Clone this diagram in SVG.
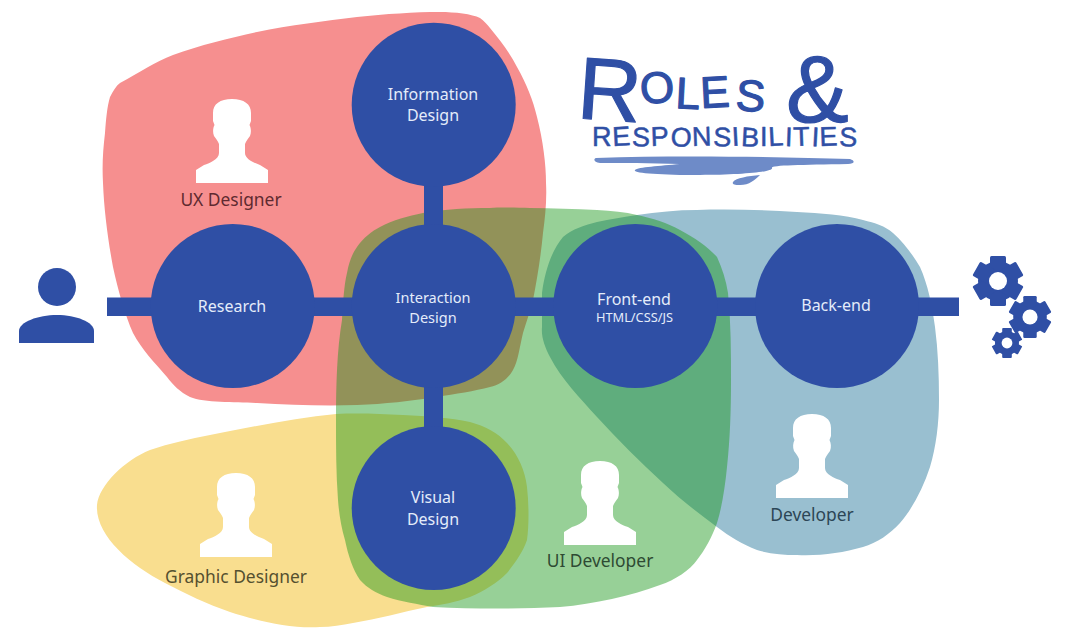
<svg xmlns="http://www.w3.org/2000/svg" xmlns:xlink="http://www.w3.org/1999/xlink" width="1080" height="641" viewBox="0 0 1080 641">
<style>
.c{fill:#2F4FA5}
.n{font-family:"Noto Sans","Open Sans",sans-serif;font-size:16px;fill:#E4ECFA;text-anchor:middle}
.s{font-size:14.5px}
.r{font-family:"Noto Sans","Open Sans",sans-serif;font-size:17.4px;text-anchor:middle}
.t{font-family:"Liberation Sans",sans-serif;fill:#2F4FA5;stroke:#2F4FA5;stroke-linejoin:round}
</style>
<defs>
<path id="sil" fill="#fff" d="M0,0C12,0 19,5 19,14V22L17.5,26C19,29 19.5,33 18,37C16,40 14,42 13,45V54C13,60 22,64 28,66L36,71V84H-36V71L-28,66C-22,64 -13,60 -13,54V45C-14,42 -16,40 -18,37C-19.5,33 -19,29 -17.5,26L-19,22V14C-19,5 -12,0 0,0Z"/>
<g id="gear">
<circle r="8" class="c"/>
<rect x="-3.2" y="-10" width="6.4" height="20" rx=".6" class="c"/>
<rect x="-3.2" y="-10" width="6.4" height="20" rx=".6" class="c" transform="rotate(60)"/>
<rect x="-3.2" y="-10" width="6.4" height="20" rx=".6" class="c" transform="rotate(120)"/>
<circle r="3.6" fill="#fff"/>
</g>
</defs>
<rect width="1080" height="641" fill="#fff"/>
<g id="areas">
<path id="area-ux" fill="#F68F8F" d="M110,97C113,91 116,86 120,83C140,72 155,62 173,55C200,45 230,38 257,32C290,25 325,21 357,17C385,14 415,12 440,12C455,12 472,14 480,18C484,21 487,24 490,28C500,40 510,53 517,67C527,85 533,100 537,117C543,140 546,165 546,183C547,200 545,218 543,233C541,255 537,280 533,300C530,312 526,323 523,333C520,345 518,362 513,370C508,379 500,385 490,387C475,391 455,394 437,397C410,401 385,404 357,405C325,406 290,405 257,403C235,402 205,403 190,397C180,392 173,385 167,377C155,363 142,350 133,333C125,315 118,290 113,267C108,240 104,210 103,183C102,165 103,150 105,133C106,120 107,107 110,97Z"/>
<path id="area-graphic" fill="#F9DE8F" d="M97,505C99,485 125,460 150,450C170,443 190,439 210,435C250,427 295,418 336,414C360,413 380,414 403,415C428,416 450,418 470,422C485,426 498,433 507,443C518,455 525,470 527,487C529,505 529,525 527,540C523,552 515,563 507,573C497,583 484,591 470,597C456,602 441,605 427,607C402,612 378,619 353,623C342,625 331,627 320,627C290,629 255,620 230,612C207,604 186,594 165,583C130,565 95,535 97,505Z"/>
<path id="area-dev" fill="#99BFD0" d="M542,293C545,270 552,250 563,237C572,229 585,225 597,222C610,219 624,217 637,215C657,212 677,210 697,210C730,209 765,210 797,212C820,213 845,215 863,220C875,223 885,226 893,233C904,243 913,255 920,267C928,285 932,305 935,327C938,350 939,375 939,400C939,423 936,447 930,467C923,488 913,508 900,523C890,534 877,543 863,547C842,553 820,556 797,555C783,555 770,554 757,550C742,544 730,537 717,527C698,513 680,499 663,483C640,462 618,440 597,417C580,398 562,380 550,357C545,347 541,337 542,327Z"/>
<path id="area-ui" fill="#189718" fill-opacity=".45" d="M336,420C336,385 337,350 342,320C343,303 344,285 347,273C349,262 352,254 357,247C363,238 372,231 380,227C393,220 408,216 423,213C445,209 468,208 490,208C505,207 518,208 530,208C552,208 575,209 597,210C612,211 625,212 637,215C652,218 668,223 680,230C695,238 708,247 717,257C722,268 726,280 728,293C731,323 731,353 731,383C731,410 730,440 727,467C725,487 722,507 717,523C712,537 705,550 697,560C690,570 675,580 660,585C630,596 595,604 560,607C520,609 475,609 433,607C418,604 402,602 387,597C376,593 367,588 360,580C353,570 348,555 345,540C341,527 339,513 338,500C336,473 336,447 336,420Z"/>
</g>
<g id="connectors" class="c">
<rect x="107" y="297.5" width="852" height="18.5"/>
<rect x="424" y="105" width="19" height="403"/>
</g>
<g id="research"><circle class="c" cx="232.7" cy="306" r="82"/><text class="n" x="232" y="312">Research</text></g>
<g id="information-design"><circle class="c" cx="433.7" cy="104.7" r="82"/><text class="n" x="433" y="100">Information</text><text class="n" x="433" y="121">Design</text></g>
<g id="interaction-design"><circle class="c" cx="433.7" cy="306" r="82"/><text class="n s" x="433" y="303">Interaction</text><text class="n s" x="433" y="322.5">Design</text></g>
<g id="visual-design"><circle class="c" cx="433.7" cy="508" r="82"/><text class="n" x="433" y="503">Visual</text><text class="n" x="433" y="525">Design</text></g>
<g id="front-end"><circle class="c" cx="635.3" cy="306" r="82"/><text class="n" x="634" y="305">Front-end</text><text class="n" style="font-size:12.8px" x="634.5" y="322">HTML/CSS/JS</text></g>
<g id="back-end"><circle class="c" cx="837" cy="306" r="82"/><text class="n" x="836" y="310.5">Back-end</text></g>
<g id="user"><circle class="c" cx="57" cy="287" r="19"/><path class="c" d="M19,343V331C19,322 38,315 57,315C76,315 94,322 94,331V343Z"/></g>
<g id="gears">
<use xlink:href="#gear" href="#gear" transform="translate(998,281) scale(2.5)"/>
<use xlink:href="#gear" href="#gear" transform="translate(1030,317) scale(2.1)"/>
<use xlink:href="#gear" href="#gear" transform="translate(1007,343) scale(1.5)"/>
</g>
<g id="ux-designer"><use xlink:href="#sil" href="#sil" x="232" y="99"/><text class="r" x="231" y="206" fill="#5E2A30">UX Designer</text></g>
<g id="graphic-designer"><use xlink:href="#sil" href="#sil" x="236" y="473"/><text class="r" x="236" y="583" fill="#55502F">Graphic Designer</text></g>
<g id="ui-developer"><use xlink:href="#sil" href="#sil" x="600" y="461"/><text class="r" x="600" y="567" fill="#2E4A33">UI Developer</text></g>
<g id="developer"><use xlink:href="#sil" href="#sil" x="812" y="414"/><text class="r" x="812" y="521" fill="#2C4656">Developer</text></g>
<g id="title">
<text class="t" stroke-width="1.2" font-size="88"><tspan x="576" y="118" rotate="4">R</tspan><tspan font-size="44" x="641" y="104" rotate="-4">O</tspan><tspan font-size="44" x="675" y="108" rotate="3">L</tspan><tspan font-size="44" x="701" y="108" rotate="-3">E</tspan><tspan font-size="44" x="735" y="110" rotate="4">S</tspan></text>
<text class="t" stroke-width="1.2" x="786" y="122" font-size="94">&amp;</text>
<text class="t" stroke-width=".5" x="592" y="146" font-size="27" textLength="265" lengthAdjust="spacing" rotate="0 -3 2 -2 3 -2 2 -3 3 0 -3 2 -2 3 -2 2">RESPONSIBILITIES</text>
<path fill="#6E8BC8" d="M596,158C680,155 780,157 850,159C856,161 854,164 848,164C800,165 770,165 772,168C773,172 740,175 700,175C660,175 632,173 635,170C638,167 660,166 680,164C650,163 620,163 600,163C594,162 593,159 596,158Z"/>
<path fill="#6E8BC8" d="M733,182C736,178 748,176 760,175C755,180 748,186 738,185C734,185 732,184 733,182Z"/>
</g>
</svg>
